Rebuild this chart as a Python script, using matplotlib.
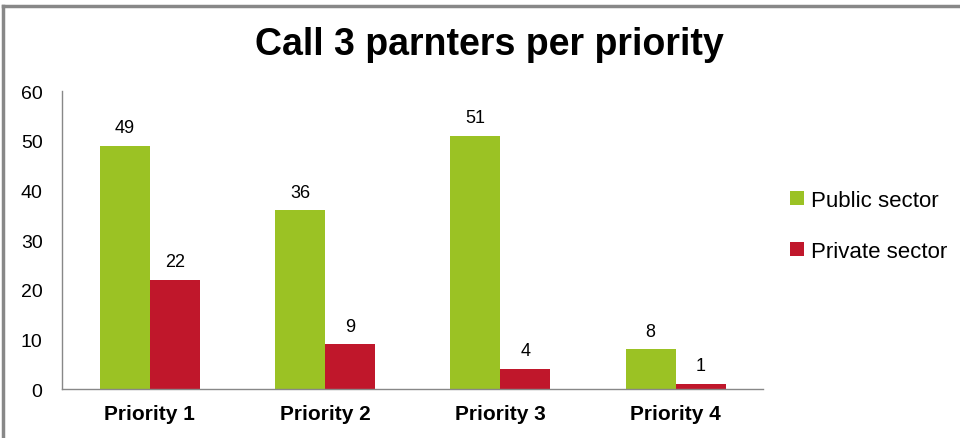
import matplotlib.pyplot as plt
from matplotlib.lines import Line2D
import numpy as np

plt.rcParams['font.family'] = ['Liberation Sans', 'DejaVu Sans']

categories = ['Priority 1', 'Priority 2', 'Priority 3', 'Priority 4']
public_sector = [49, 36, 51, 8]
private_sector = [22, 9, 4, 1]

green = '#9BC224'
red = '#C0172B'

fig = plt.figure(figsize=(9.6, 4.39), dpi=100)
ax = fig.add_axes([0.0646, 0.1116, 0.7304, 0.6784])

x = np.arange(len(categories))
w = 0.285
b1 = ax.bar(x - w / 2, public_sector, w, color=green, label='Public sector')
b2 = ax.bar(x + w / 2, private_sector, w, color=red, label='Private sector')

# value labels
for bars in (b1, b2):
    for r in bars:
        ax.annotate(str(int(r.get_height())), (r.get_x() + r.get_width() / 2, r.get_height()),
                    xytext=(0, 7), textcoords='offset points', ha='center', va='bottom',
                    fontsize=13)

ax.set_xlim(-0.5, 3.5)
ax.set_ylim(0, 60)
ax.set_yticks(range(0, 61, 10))
ax.set_xticks(x)
ax.set_xticklabels(categories, fontweight='bold', fontsize=15)
ax.tick_params(axis='y', length=0, pad=14, labelsize=14)
ax.tick_params(axis='x', length=0, pad=11)
for s in ('top', 'right'):
    ax.spines[s].set_visible(False)
for s in ('left', 'bottom'):
    ax.spines[s].set_color('#888888')
    ax.spines[s].set_linewidth(1)

fig.text(0.51, 0.897, 'Call 3 parnters per priority', ha='center', va='center',
         fontsize=27, fontweight='bold')

ax.legend(loc='upper left', bbox_to_anchor=(1.01, 0.735), frameon=False, fontsize=16,
          handlelength=0.6, handleheight=0.6, handletextpad=0.35, labelspacing=1.35)

# frame lines of the original picture
fig.add_artist(Line2D([0.003, 1.0], [0.985, 0.985], color='#888888', lw=2.5))
fig.add_artist(Line2D([0.0035, 0.0035], [0.0, 0.985], color='#888888', lw=2.5))

fig.savefig('out.png', dpi=100)
